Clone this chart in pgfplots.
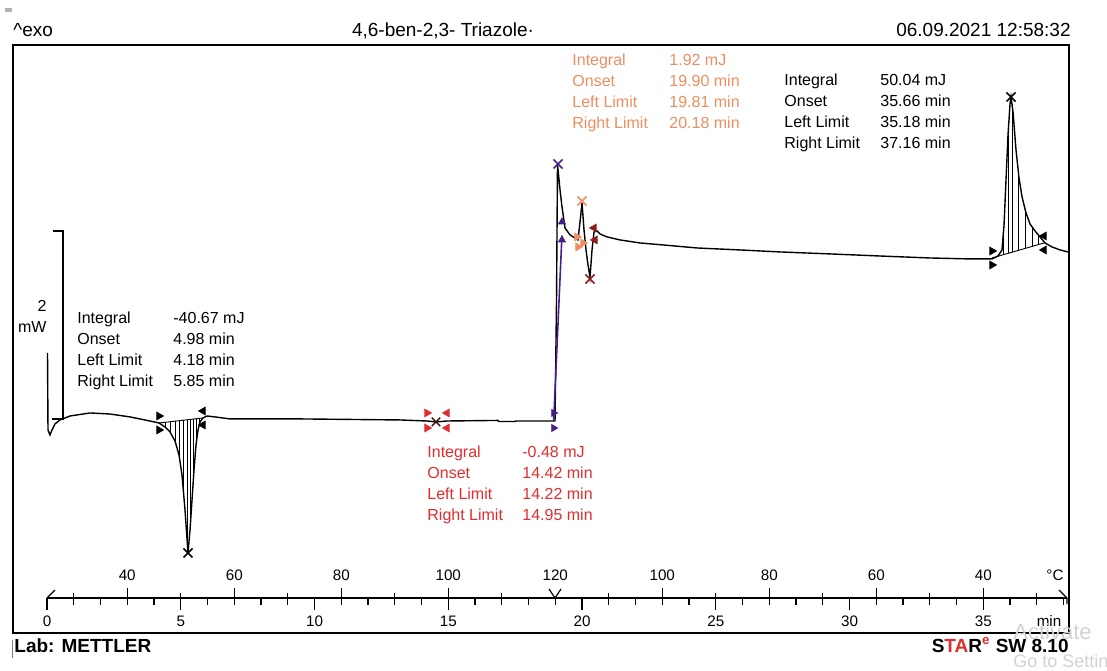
\documentclass[border=0pt]{standalone}
\usepackage{pgfplots}
\pgfplotsset{compat=1.18}
\usepackage{fontspec}
\setmainfont{Liberation Sans}
\definecolor{redc}{RGB}{225,45,45}
\definecolor{orangec}{RGB}{236,142,96}
\definecolor{purplec}{RGB}{72,32,135}
\definecolor{darkredc}{RGB}{140,30,30}
\begin{document}
\begin{tikzpicture}
\begin{axis}[at={(0,0)},anchor=north west,scale only axis,width=553.5pt,height=335pt,
  xmin=-1.757,xmax=39.626,ymin=-2.646,ymax=4.444,hide axis,clip=false]
% DSC signal (x: time / min, y: heat flow / mW, arbitrary offset)
\addplot[black,line width=0.7pt,mark=none] coordinates {
(0.019,0.709) (0.037,-0.106) (0.112,-0.159) (0.187,-0.106) (0.299,-0.042) (0.486,0)
(0.860,0.042) (1.607,0.074) (2.355,0.063) (3.103,0.032) (3.850,-0.011) (4.187,-0.032)
(4.411,-0.074) (4.598,-0.127) (4.785,-0.222) (4.935,-0.370) (5.047,-0.582) (5.159,-0.952)
(5.271,-1.407) (5.346,-1.164) (5.421,-0.847) (5.495,-0.529) (5.570,-0.265) (5.645,-0.106)
(5.720,-0.021) (5.832,0.021) (5.981,0.042) (6.280,0.032) (6.841,0.011) (9.458,0.011)
(13.196,0) (14.206,-0.011) (14.542,-0.021) (14.953,-0.011) (16.860,-0.005) (16.880,-0.016)
(17.500,-0.016) (17.520,-0.011) (18.991,-0.011) (19.047,1.270) (19.084,2.709) (19.178,2.434)
(19.252,2.254) (19.364,2.032) (19.551,1.958) (19.738,1.926) (19.850,1.905) (19.925,2.095)
(20.000,2.296) (20.075,2.011) (20.150,1.799) (20.224,1.640) (20.299,1.513) (20.374,1.799)
(20.449,1.989) (20.561,2.000) (20.673,1.968) (20.935,1.937) (21.421,1.905) (22.168,1.873)
(23.028,1.852) (24.299,1.820) (25.907,1.799) (27.402,1.778) (29.271,1.757) (31.140,1.735)
(33.009,1.714) (34.505,1.704) (35.327,1.704) (35.551,1.735) (35.701,1.799) (35.776,2.063)
(35.850,2.540) (35.925,3.016) (36.000,3.344) (36.037,3.418) (36.112,3.259) (36.224,2.857)
(36.336,2.561) (36.449,2.360) (36.598,2.190) (36.748,2.074) (36.935,2.000) (37.121,1.937)
(37.308,1.873) (37.570,1.831) (37.869,1.799) (38.168,1.778)};
% endothermic peak: baseline and hatching
\addplot[black,line width=0.45pt] coordinates {(4.187,-0.032) (5.832,0.021)};
\addplot[black,line width=0.45pt] coordinates {(4.411,-0.024) (4.411,-0.074)};
\addplot[black,line width=0.45pt] coordinates {(4.598,-0.019) (4.598,-0.127)};
\addplot[black,line width=0.45pt] coordinates {(4.785,-0.013) (4.785,-0.222)};
\addplot[black,line width=0.45pt] coordinates {(4.935,-0.007) (4.935,-0.370)};
\addplot[black,line width=0.45pt] coordinates {(5.084,-0.003) (5.084,-0.705)};
\addplot[black,line width=0.45pt] coordinates {(5.234,0.002) (5.234,-1.256)};
\addplot[black,line width=0.45pt] coordinates {(5.346,0.005) (5.346,-1.164)};
\addplot[black,line width=0.45pt] coordinates {(5.458,0.010) (5.458,-0.688)};
\addplot[black,line width=0.45pt] coordinates {(5.570,0.013) (5.570,-0.265)};
\addplot[black,line width=0.45pt] coordinates {(5.682,0.016) (5.682,-0.063)};
% exothermic peak: baseline and hatching
\addplot[black,line width=0.45pt] coordinates {(35.327,1.714) (37.271,1.873)};
\addplot[black,line width=0.45pt] coordinates {(35.738,1.748) (35.738,1.937)};
\addplot[black,line width=0.45pt] coordinates {(35.925,1.763) (35.925,3.016)};
\addplot[black,line width=0.45pt] coordinates {(36.075,1.776) (36.075,3.339)};
\addplot[black,line width=0.45pt] coordinates {(36.299,1.794) (36.299,2.659)};
\addplot[black,line width=0.45pt] coordinates {(36.561,1.815) (36.561,2.233)};
\addplot[black,line width=0.45pt] coordinates {(36.822,1.836) (36.822,2.044)};
\addplot[black,line width=0.45pt] coordinates {(37.047,1.854) (37.047,1.962)};
% purple step evaluation
\addplot[purplec,line width=0.8pt] coordinates {(18.94,-0.01) (19.25,1.95)};
% limit markers
\addplot[only marks,black,mark=triangle*,mark size=2.2pt,mark options={rotate=-90}] coordinates {(4.187,0.042) (4.187,-0.106) (35.327,1.788) (35.327,1.640)};
\addplot[only marks,black,mark=triangle*,mark size=2.2pt,mark options={rotate=90}] coordinates {(5.832,0.095) (5.832,-0.053) (37.271,1.947) (37.271,1.799)};
\addplot[only marks,redc,mark=triangle*,mark size=2.2pt,mark options={rotate=-90}] coordinates {(14.206,0.074) (14.206,-0.085)};
\addplot[only marks,redc,mark=triangle*,mark size=2.2pt,mark options={rotate=90}] coordinates {(14.953,0.074) (14.953,-0.085)};
\addplot[only marks,purplec,mark=triangle*,mark size=2pt,mark options={rotate=-90}] coordinates {(18.94,0.074) (18.94,-0.085)};
\addplot[only marks,purplec,mark=triangle*,mark size=2pt] coordinates {(19.25,1.905) (19.252,2.095)};
\addplot[only marks,orangec,mark=triangle*,mark size=2.2pt,mark options={rotate=-90}] coordinates {(19.813,1.937) (19.850,1.831) (20.037,1.873)};
\addplot[only marks,darkredc,mark=triangle*,mark size=2.2pt,mark options={rotate=90}] coordinates {(20.449,2.032) (20.486,1.905)};
% peak crosses
\addplot[only marks,black,mark=x,mark size=3.2pt,mark options={line width=0.8pt}] coordinates {(5.271,-1.407) (36.037,3.418)};
\addplot[only marks,black!70!redc,mark=x,mark size=3pt,mark options={line width=0.7pt}] coordinates {(14.542,-0.021)};
\addplot[only marks,purplec,mark=x,mark size=3.2pt,mark options={line width=0.8pt}] coordinates {(19.103,2.709)};
\addplot[only marks,orangec,mark=x,mark size=3.2pt,mark options={line width=0.8pt}] coordinates {(20.000,2.317)};
\addplot[only marks,darkredc,mark=x,mark size=3.2pt,mark options={line width=0.8pt}] coordinates {(20.299,1.492)};
\end{axis}
\begin{scope}[x=0.5pt,y=-0.5pt]
% frame
\draw[line width=0.75pt] (13,45) rectangle (1069,633);
\fill[gray!60] (5,8) rectangle (12,12);
% header
\node[anchor=base west,inner sep=0pt,font=\fontsize{9.5}{11}\selectfont] at (13,36) {\^{}exo};
\node[anchor=base,inner sep=0pt,font=\fontsize{9.5}{11}\selectfont] at (443,36) {4,6-ben-2,3- Triazole·};
\node[anchor=base east,inner sep=0pt,font=\fontsize{9.5}{11}\selectfont] at (1071,36) {06.09.2021 12:58:32};
% scale bar
\draw[line width=0.7pt] (53,231) -- (63,231) -- (63,419) -- (52,419);
\node[anchor=base east,inner sep=0pt,font=\fontsize{8}{10}\selectfont] at (47,311) {2};
\node[anchor=base east,inner sep=0pt,font=\fontsize{8}{10}\selectfont] at (47,332) {mW};
% annotation blocks
\begin{scope}[every node/.style={anchor=base west,inner sep=0pt,font=\fontsize{8}{10}\selectfont}]
\node at (77,323) {Integral};    \node at (173,323) {-40.67 mJ};
\node at (77,344) {Onset};       \node at (173,344) {4.98 min};
\node at (77,365) {Left Limit};  \node at (173,365) {4.18 min};
\node at (77,386) {Right Limit}; \node at (173,386) {5.85 min};
\node[text=redc] at (427,457) {Integral};    \node[text=redc] at (522,457) {-0.48 mJ};
\node[text=redc] at (427,478) {Onset};       \node[text=redc] at (522,478) {14.42 min};
\node[text=redc] at (427,499) {Left Limit};  \node[text=redc] at (522,499) {14.22 min};
\node[text=redc] at (427,520) {Right Limit}; \node[text=redc] at (522,520) {14.95 min};
\node[text=orangec] at (572,65) {Integral};    \node[text=orangec] at (669,65) {1.92 mJ};
\node[text=orangec] at (572,86) {Onset};       \node[text=orangec] at (669,86) {19.90 min};
\node[text=orangec] at (572,107) {Left Limit}; \node[text=orangec] at (669,107) {19.81 min};
\node[text=orangec] at (572,128) {Right Limit};\node[text=orangec] at (669,128) {20.18 min};
\node at (784,85) {Integral};    \node at (880,85) {50.04 mJ};
\node at (784,106) {Onset};      \node at (880,106) {35.66 min};
\node at (784,127) {Left Limit}; \node at (880,127) {35.18 min};
\node at (784,148) {Right Limit};\node at (880,148) {37.16 min};
\end{scope}
% time / temperature axis
\draw[line width=0.6pt] (47,598) -- (1067,598);
\draw[line width=0.6pt] (47,598) -- (55,590);
\draw[line width=0.6pt] (1059,590) -- (1067,598) -- (1067,604);
\draw[line width=0.6pt] (549,589) -- (555,598) -- (561,589);
\foreach \t in {0,...,38} {\draw[line width=0.6pt] ({47+26.75*\t},598) -- ({47+26.75*\t},605);}
\foreach \t in {0,5,...,35} {\draw[line width=0.6pt] ({47+26.75*\t},598) -- ({47+26.75*\t},610);}
\foreach \t in {1,5,9,13,17,21,25,29,33,37} {\draw[line width=0.6pt] ({47+26.75*\t},598) -- ({47+26.75*\t},593);}
\foreach \t in {3,7,11,15,23,27,31,35} {\draw[line width=0.6pt] ({47+26.75*\t},598) -- ({47+26.75*\t},588);}
\begin{scope}[every node/.style={anchor=base,inner sep=0pt,font=\fontsize{7.6}{9}\selectfont}]
\foreach \t/\lab in {3/40,7/60,11/80,15/100,19/120,23/100,27/80,31/60,35/40} {\node at ({47+26.75*\t},580) {\lab};}
\node at (1055,580) {°C};
\foreach \t in {0,5,...,35} {\node at ({47+26.75*\t},626) {\t};}
\node at (1049,626) {min};
\end{scope}
% footer
\draw[line width=0.4pt,gray] (12,640) -- (12,658);
\node[anchor=base west,inner sep=0pt,font=\fontsize{9.5}{11}\selectfont\bfseries] at (14,652) {Lab: METTLER};
\node[anchor=base east,inner sep=0pt,font=\fontsize{9.5}{11}\selectfont\bfseries] at (1069,652) {S\textcolor{redc}{TA}R\textsuperscript{\textcolor{redc}{e}} SW 8.10};
% screen watermark
\begin{scope}
\clip (0,0) rectangle (1107,670);
\node[anchor=base west,inner sep=0pt,text=gray!35,font=\fontsize{11}{13}\selectfont] at (1013,639) {Activate};
\node[anchor=base west,inner sep=0pt,text=gray!35,font=\fontsize{9}{11}\selectfont] at (1013,667) {Go to Settings};
\end{scope}
\end{scope}
\pgfresetboundingbox
\path[use as bounding box] (0,0) rectangle (553.5pt,-335pt);
\end{tikzpicture}
\end{document}
